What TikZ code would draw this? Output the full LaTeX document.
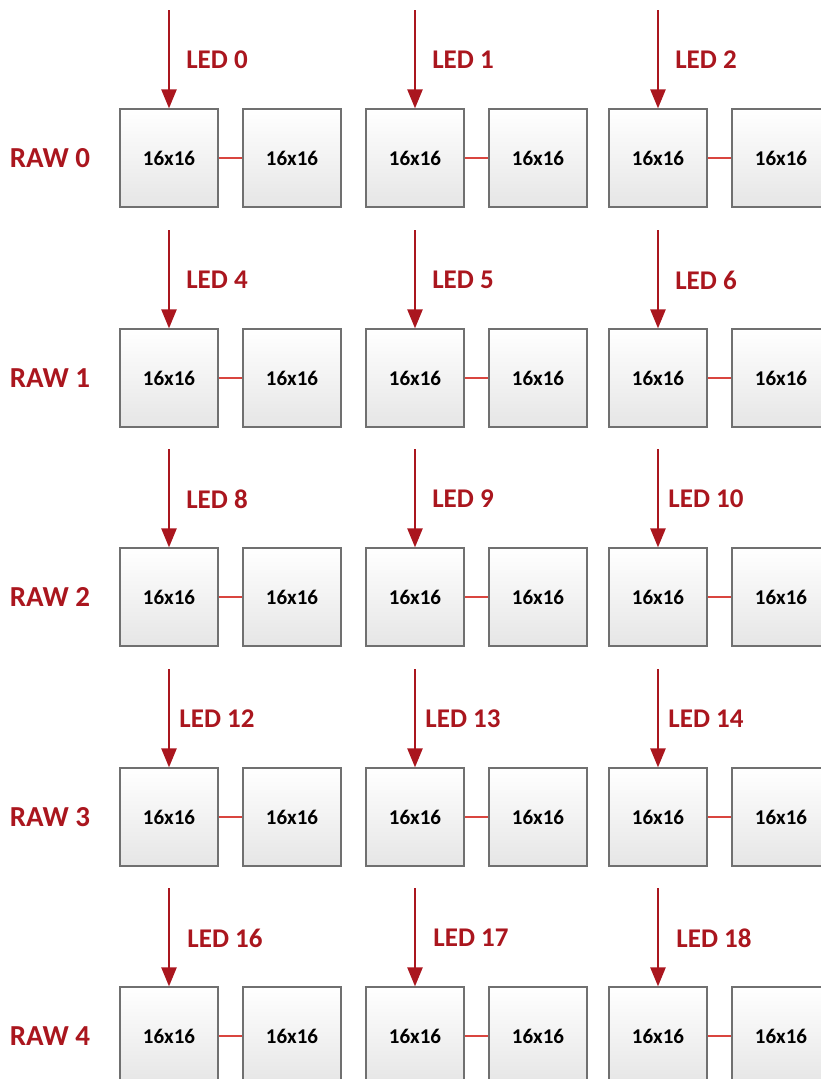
\documentclass[tikz,border=0pt]{standalone}
\usepackage{fontspec}
\setmainfont{Carlito}
\usetikzlibrary{arrows.meta}
\definecolor{ledred}{HTML}{AA161E}
\definecolor{linkred}{HTML}{D9453F}
\definecolor{boxedge}{HTML}{707070}

\begin{document}
\begin{tikzpicture}[x=1pt, y=-1pt,
    panel/.style={draw=boxedge, line width=1.2pt, top color=white, bottom color=gray!20,
      minimum width=98pt, minimum height=98pt, inner sep=0pt,
      font=\bfseries\fontsize{21}{24}\selectfont},
    ledlabel/.style={text=ledred, font=\bfseries\fontsize{27}{32}\selectfont},
    rowlabel/.style={text=ledred, font=\bfseries\fontsize{29}{34}\selectfont},
    feed/.style={draw=ledred, line width=2.4pt, -{Triangle[width=15pt,length=19pt]}},
    link/.style={draw=linkred, line width=2.8pt}]
    \useasboundingbox (0,0) rectangle (821,1079);
    \foreach \r/\y in {0/158,1/378,2/597,3/817,4/1036} {
      \node[rowlabel] (raw\r) at (50,\y) {RAW \r};
      \foreach \c/\x in {0/169,1/415,2/658} {
        \pgfmathtruncatemacro{\led}{4*\r+\c}
        \pgfmathtruncatemacro{\dx}{\r==4 ? 56 : 48}
        \node[panel] (a\r\c) at (\x,\y) {16x16};
        \node[panel] (b\r\c) at (\x+123,\y) {16x16};
        \coordinate (in\r\c) at (\x,\y-148);
        \draw[feed] (in\r\c) -- (a\r\c.north);
        \node[ledlabel] (led\r\c) at (\x+\dx,\y-98) {LED \led};
        \draw[link] (a\r\c) -- (b\r\c);
      }
    }
\end{tikzpicture}
\end{document}
